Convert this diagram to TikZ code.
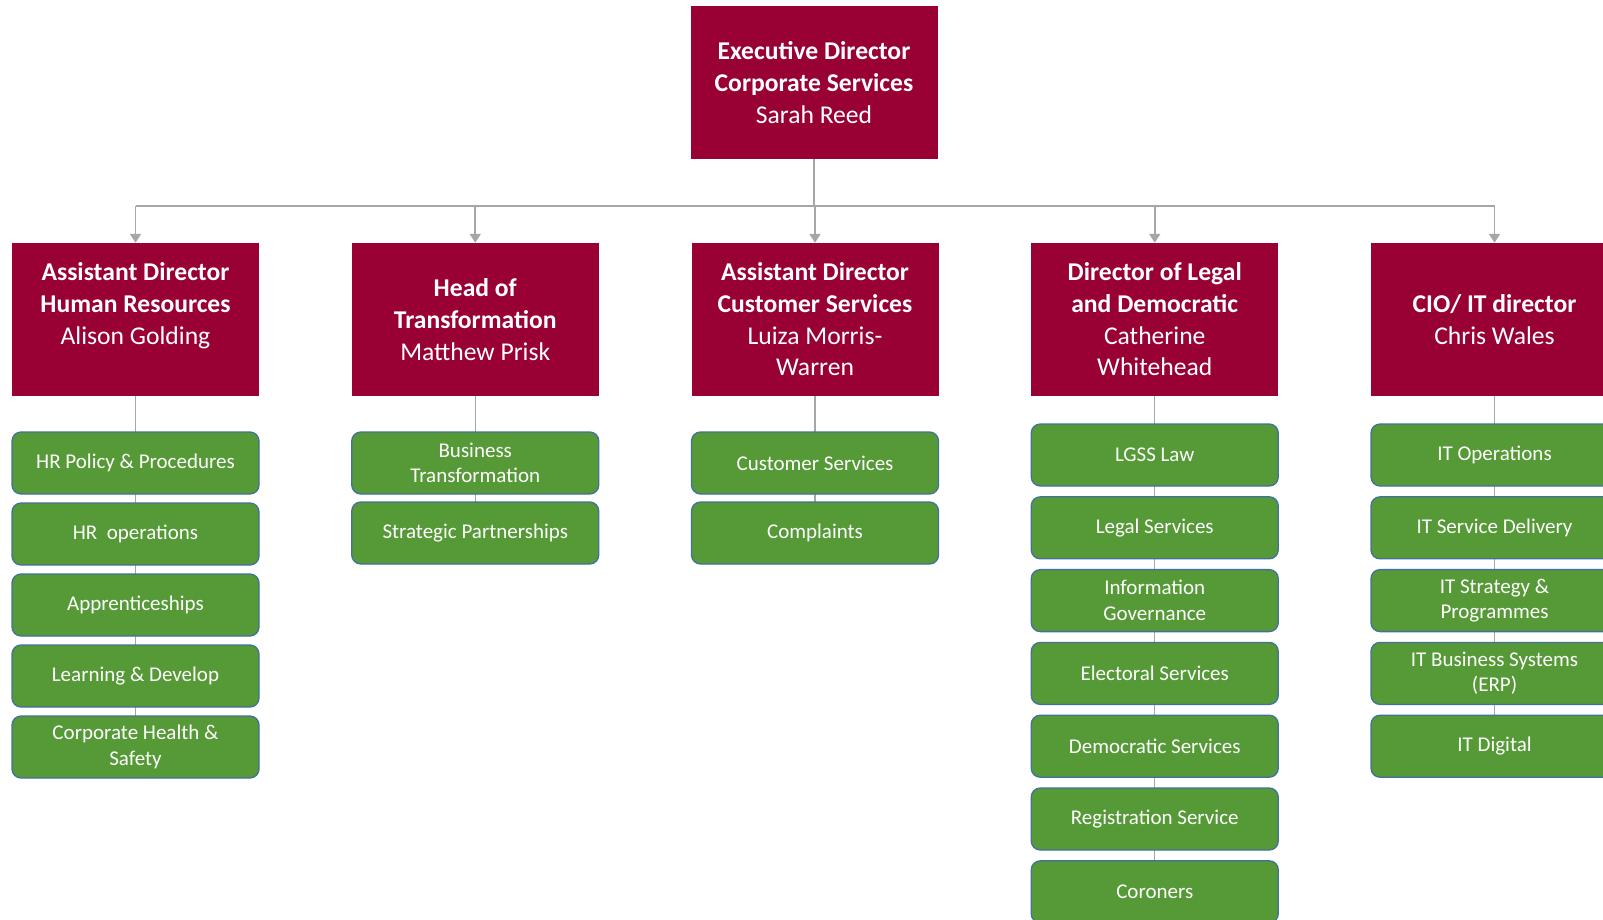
\documentclass[tikz,border=0pt]{standalone}
\usepackage{fontspec}
\setmainfont{Carlito}
\usetikzlibrary{arrows.meta,backgrounds}
\definecolor{headred}{HTML}{990033}
\definecolor{unitgreen}{HTML}{559A37}
\definecolor{unitedge}{HTML}{41719C}
\definecolor{linkgray}{HTML}{A6A6A6}
\tikzset{
  headbox/.style={fill=headred, draw=none, minimum width=247pt, minimum height=153pt,
    inner sep=0pt, align=center, text=white, font=\fontsize{25.6}{31.7}\selectfont},
  unitbox/.style={fill=unitgreen, draw=unitedge, line width=1.3pt, rounded corners=9pt,
    minimum width=247pt, minimum height=62pt, inner sep=0pt, align=center, text=white,
    font=\fontsize{21}{25.6}\selectfont},
  busline/.style={draw=linkgray, line width=1.8pt},
  arrowline/.style={busline, -{Triangle[width=11pt,length=9pt]}},
  stemline/.style={draw=linkgray, line width=1.4pt}
}
\begin{document}
\begin{tikzpicture}[x=1pt,y=-1pt]
\useasboundingbox (0,0) rectangle (1603,919);
% top
\node[headbox] (exec) at (814,82.5) {\textbf{Executive Director}\\\textbf{Corporate Services}\\Sarah Reed};
% heads
\node[headbox] (h1) at (135.5,319.5) {\textbf{Assistant Director}\\\textbf{Human Resources}\\Alison Golding\\~};
\node[headbox] (h2) at (475.25,319.5) {\textbf{Head of}\\\textbf{Transformation}\\Matthew Prisk};
\node[headbox] (h3) at (815,319.5) {\textbf{Assistant Director}\\\textbf{Customer Services}\\Luiza Morris-\\Warren};
\node[headbox] (h4) at (1154.75,319.5) {\textbf{Director of Legal}\\\textbf{and Democratic}\\Catherine\\Whitehead};
\node[headbox] (h5) at (1494.5,319.5) {\textbf{CIO/ IT director}\\Chris Wales};
% column 1
\node[unitbox] (a1) at (135.5,463) {HR Policy \& Procedures};
\node[unitbox] (a2) at (135.5,534) {HR\ \ operations};
\node[unitbox] (a3) at (135.5,605) {Apprenticeships};
\node[unitbox] (a4) at (135.5,676) {Learning \& Develop};
\node[unitbox] (a5) at (135.5,747) {Corporate Health \&\\Safety};
% column 2
\node[unitbox] (b1) at (475.25,463) {Business\\Transformation};
\node[unitbox] (b2) at (475.25,533) {Strategic Partnerships};
% column 3
\node[unitbox] (c1) at (815,463) {Customer Services};
\node[unitbox] (c2) at (815,533) {Complaints};
% column 4
\node[unitbox] (d1) at (1154.75,455) {LGSS Law};
\node[unitbox] (d2) at (1154.75,527.8) {Legal Services};
\node[unitbox] (d3) at (1154.75,600.6) {Information\\Governance};
\node[unitbox] (d4) at (1154.75,673.4) {Electoral Services};
\node[unitbox] (d5) at (1154.75,746.2) {Democratic Services};
\node[unitbox] (d6) at (1154.75,819) {Registration Service};
\node[unitbox] (d7) at (1154.75,891.8) {Coroners};
% column 5
\node[unitbox] (e1) at (1494.5,455) {IT Operations};
\node[unitbox] (e2) at (1494.5,527.8) {IT Service Delivery};
\node[unitbox] (e3) at (1494.5,600.6) {IT Strategy \&\\Programmes};
\node[unitbox] (e4) at (1494.5,673.4) {IT Business Systems\\(ERP)};
\node[unitbox] (e5) at (1494.5,746.2) {IT Digital};
% connectors
\coordinate (bus) at (814,206);
\begin{scope}[on background layer]
  \draw[stemline] (h1.south) -- (a5.center);
  \draw[stemline] (h2.south) -- (b2.center);
  \draw[stemline] (h3.south) -- (c2.center);
  \draw[stemline] (h4.south) -- (d7.center);
  \draw[stemline] (h5.south) -- (e5.center);
\end{scope}
\draw[busline] (exec.south) -- (bus);
\draw[busline] (bus -| h1.north) -- (bus -| h5.north);
\foreach \h in {h1,h2,h3,h4,h5}{
  \draw[arrowline] (bus -| \h.north) -- (\h.north);
}
\end{tikzpicture}
\end{document}
